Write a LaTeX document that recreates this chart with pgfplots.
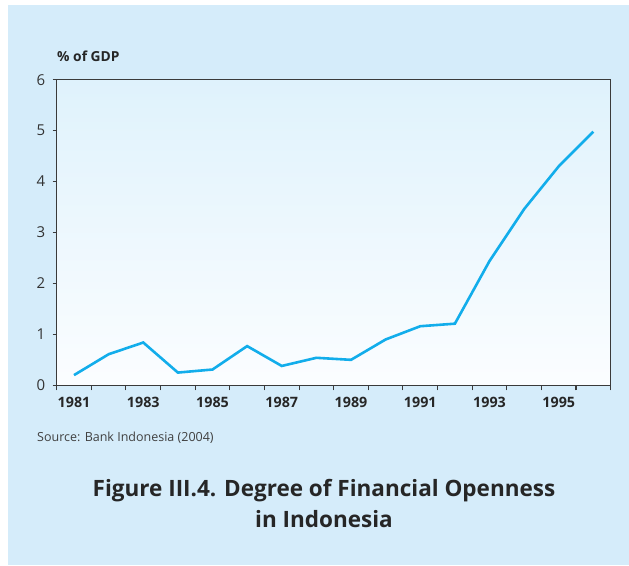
\documentclass[border=0pt]{standalone}
\usepackage{fontspec}
\setmainfont{Open Sans}
\usepackage{pgfplots}
\pgfplotsset{compat=1.18}

\definecolor{panel}{HTML}{D5ECFA}
\definecolor{plottop}{HTML}{DFF2FC}
\definecolor{plotbot}{HTML}{FBFDFF}
\definecolor{series}{HTML}{12ADEB}
\definecolor{axisgray}{HTML}{3A3A3A}

\begin{document}
\begin{tikzpicture}[x=1pt,y=1pt]
\useasboundingbox (0,0) rectangle (629,-565);
\fill[white] (0,0) rectangle (629,-565);
\fill[panel] (8,-5) rectangle (629,-565);

\begin{axis}[
    at={(56.7pt,-385.3pt)}, anchor=south west,
    scale only axis, width=554pt, height=305.6pt,
    xmin=1980.5, xmax=1996.5,
    ymin=0, ymax=6,
    xtick={1981,1983,...,1995},
    minor xtick={1980.5,1981.5,...,1996.5},
    ytick={0,1,...,6},
    xtick pos=bottom, ytick pos=left,
    tick align=outside,
    major tick length=4pt, minor tick length=5pt,
    major x tick style={draw=none},
    every tick/.style={axisgray, line width=1.1pt},
    axis line style={axisgray, line width=1.4pt},
    axis background/.style={top color=plottop, bottom color=plotbot},
    /pgf/number format/assume math mode=true,
    xticklabel={\pgfmathprintnumber[1000 sep={}]{\tick}},
    xticklabel style={font=\bfseries\fontsize{14.3}{15}\selectfont, text=black!85, yshift=-4pt},
    yticklabel style={font=\fontsize{15}{15}\selectfont, text=black!80, xshift=-4pt},
]
\addplot[series, line width=2.6pt, mark=none] coordinates {
    (1981,0.20) (1982,0.61) (1983,0.84) (1984,0.25) (1985,0.31)
    (1986,0.77) (1987,0.38) (1988,0.54) (1989,0.50) (1990,0.90)
    (1991,1.16) (1992,1.21) (1993,2.44) (1994,3.46) (1995,4.30)
    (1996,4.98)
};
\end{axis}

\node[anchor=base west, inner sep=0, font=\bfseries\fontsize{13.8}{14}\selectfont, text=black!85] at (57,-61) {\% of GDP};
\node[anchor=base west, inner sep=0, font=\fontsize{12.5}{13}\selectfont, text=black!75] at (37,-441.7) {Source: Bank Indonesia (2004)};
\node[anchor=base, inner sep=0, font=\bfseries\fontsize{22.5}{23}\selectfont, text=black!85] at (324,-496.7) {Figure III.4. Degree of Financial Openness};
\node[anchor=base, inner sep=0, font=\bfseries\fontsize{22.5}{23}\selectfont, text=black!85] at (324,-527.7) {in Indonesia};
\end{tikzpicture}
\end{document}
